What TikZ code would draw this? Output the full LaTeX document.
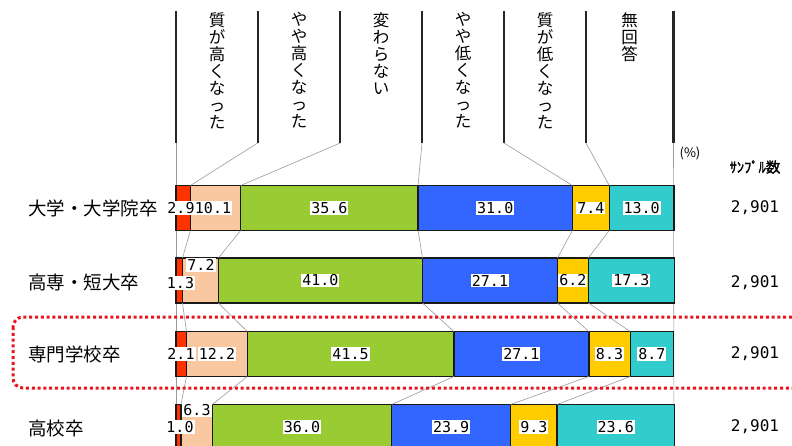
\documentclass[tikz,border=0pt]{standalone}
\usepackage{fontspec}
\setmainfont{Noto Sans CJK JP}
\newfontfamily\jpf{Noto Sans CJK JP}
\newfontfamily\jpb[FakeBold=1.5]{Noto Sans CJK JP}
\newfontfamily\numf{DejaVu Sans Mono}
\definecolor{c1}{RGB}{255,51,0}
\definecolor{c2}{RGB}{250,200,160}
\definecolor{c3}{RGB}{153,204,51}
\definecolor{c4}{RGB}{51,102,255}
\definecolor{c5}{RGB}{255,204,0}
\definecolor{c6}{RGB}{51,204,204}
\definecolor{dotred}{RGB}{232,20,30}
\newcommand\barrow[3]{%
  \gdef\bpx{176}%
  \foreach \v [count=\i] in {#3} {%
    \node[seg, fill=c\i, minimum width={\v*4.98pt}] (r#1s\i) at (\bpx,#2) {};
    \pgfmathsetmacro\btmp{\bpx+\v*4.98}\xdef\bpx{\btmp}%
  }}
\begin{document}
\begin{tikzpicture}[x=1pt,y=-1pt,
  seg/.style={draw=black!90, line width=1.3pt, minimum height=45pt, inner sep=0pt, outer sep=0pt, anchor=west},
  lbl/.style={fill=white, inner sep=1pt, font=\numf\fontsize{15}{15}\selectfont},
  conn/.style={draw=black!40, line width=0.6pt},
  hdr/.style={line width=2.2pt, draw=black!85},
  head/.style={font=\jpf\fontsize{16.5}{17}\selectfont, align=center, anchor=north, inner sep=0pt},
  rowlab/.style={font=\jpf\fontsize{18.5}{19}\selectfont, anchor=west, inner sep=0pt},
  nlab/.style={font=\numf\fontsize{16}{16}\selectfont, inner sep=0pt},
  hilite/.style={draw=dotred, line width=3pt, dash pattern=on 3pt off 2.8pt, rounded corners=10pt}
]
\useasboundingbox (0,0) rectangle (792,446);
\clip (0,0) rectangle (792,446);

% header columns
\foreach \x [count=\i] in {176,257.7,340.3,422,504,586,673.5} {
  \coordinate (ht\i) at (\x,11);
  \coordinate (hb\i) at (\x,143);
}
\foreach \i in {1,...,7} \draw[hdr] (ht\i) -- (hb\i);
\node[head] (h1) at (217,12) {質\\が\\高\\く\\な\\っ\\た};
\node[head] (h2) at (299,12) {や\\や\\高\\く\\な\\っ\\た};
\node[head] (h3) at (381,12) {変\\わ\\ら\\な\\い};
\node[head] (h4) at (463,12) {や\\や\\低\\く\\な\\っ\\た};
\node[head] (h5) at (545,12) {質\\が\\低\\く\\な\\っ\\た};
\node[head] (h6) at (629.5,12) {無\\回\\答};

% outer verticals
\coordinate (bl) at (176,446);
\coordinate (br) at (674,446);
\draw[conn] (hb1) -- (bl);
\draw[conn] (hb7) -- (br);

% bars
\barrow{1}{208}{2.9,10.1,35.6,31.0,7.4,13.0}
\barrow{2}{280.5}{1.3,7.2,41.0,27.1,6.2,17.3}
\barrow{3}{354}{2.1,12.2,41.5,27.1,8.3,8.7}
\barrow{4}{427}{1.0,6.3,36.0,23.9,9.3,23.6}

% connectors
\foreach \i [evaluate=\i as \j using int(\i+1)] in {1,...,5}
  \draw[conn] (hb\j) -- (r1s\i.north east);
\foreach \r [evaluate=\r as \n using int(\r+1)] in {1,2,3}
  \foreach \i in {1,...,5}
    \draw[conn] (r\r s\i.south east) -- (r\n s\i.north east);

% value labels
\node[lbl] (l11) at (181,208) {2.9};
\node[lbl] (l12) at (213,208) {10.1};
\node[lbl] (l13) at (r1s3) {35.6};
\node[lbl] (l14) at (r1s4) {31.0};
\node[lbl] (l15) at (r1s5) {7.4};
\node[lbl] (l16) at (r1s6) {13.0};

\node[lbl] (l22) at (201,265) {7.2};
\node[lbl] (l21) at (180.5,283) {1.3};
\node[lbl] (l23) at (r2s3) {41.0};
\node[lbl] (l24) at (r2s4) {27.1};
\node[lbl] (l25) at (r2s5) {6.2};
\node[lbl] (l26) at (r2s6) {17.3};

\node[lbl] (l31) at (181,354) {2.1};
\node[lbl] (l32) at (217,354) {12.2};
\node[lbl] (l33) at (r3s3) {41.5};
\node[lbl] (l34) at (r3s4) {27.1};
\node[lbl] (l35) at (r3s5) {8.3};
\node[lbl] (l36) at (r3s6) {8.7};

\node[lbl] (l42) at (197,410) {6.3};
\node[lbl] (l41) at (180,427) {1.0};
\node[lbl] (l43) at (r4s3) {36.0};
\node[lbl] (l44) at (r4s4) {23.9};
\node[lbl] (l45) at (r4s5) {9.3};
\node[lbl] (l46) at (r4s6) {23.6};

% row labels
\node[rowlab] (g1) at (28,208) {大学・大学院卒};
\node[rowlab] (g2) at (28,282) {高専・短大卒};
\node[rowlab] (g3) at (28,354) {専門学校卒};
\node[rowlab] (g4) at (28,428) {高校卒};

% sample sizes
\node[font=\jpf\fontsize{13}{13}\selectfont, inner sep=0pt] (pct) at (690,153) {(\%)};
\node[font=\jpb\fontsize{14.5}{14.5}\selectfont, inner sep=0pt] (smp) at (755,167) {ｻﾝﾌﾟﾙ数};
\node[nlab] (n1) at (755,208) {2,901};
\node[nlab] (n2) at (755,283) {2,901};
\node[nlab] (n3) at (755,354) {2,901};
\node[nlab] (n4) at (755,427) {2,901};

% highlight
\draw[hilite] (13,317) rectangle (810,388);
\end{tikzpicture}
\end{document}
